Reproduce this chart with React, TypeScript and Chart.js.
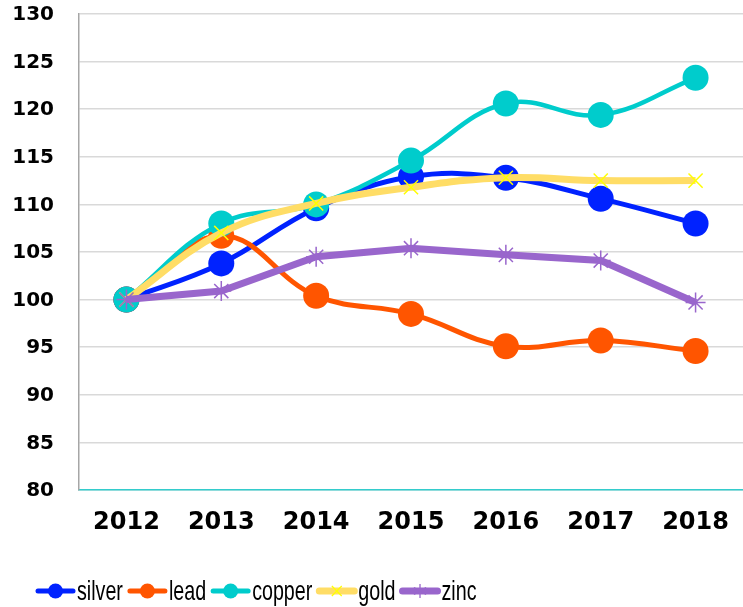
import React, { useEffect, useRef } from "react";
import { Chart, registerables } from "chart.js";

Chart.register(...registerables);

const years = ["2012", "2013", "2014", "2015", "2016", "2017", "2018"];
const silver = [100, 103.8, 109.6, 112.9, 112.8, 110.6, 108.0];
const lead = [100, 106.7, 100.4, 98.5, 95.1, 95.7, 94.6];
const copper = [100, 108.0, 110.0, 114.6, 120.6, 119.4, 123.3];
const gold = [100, 107.0, 110.1, 111.8, 112.8, 112.5, 112.5];
const zinc = [100, 100.9, 104.5, 105.4, 104.7, 104.1, 99.7];
const seriesNames = ["silver", "lead", "copper", "gold", "zinc"];
const yTicks = [80, 85, 90, 95, 100, 105, 110, 115, 120, 125, 130];

const lineColors = ["#0022FF", "#FF5500", "#00CCCC", "#FFDD66", "#9966CC"];
const markerColors = ["#0022FF", "#FF5500", "#00CCCC", "#FFFF00", "#9966CC"];
const markerStyles: any[] = ["circle", "circle", "circle", "crossRot", "star"];

export default function App() {
  const ref = useRef<HTMLCanvasElement | null>(null);
  useEffect(() => {
    document.body.style.margin = "0";
    const canvas = ref.current!;
    const allData = [silver, lead, copper, gold, zinc];
    const widths = [5, 5, 4.5, 7, 7];
    const radii = [13, 13, 13, 10, 10];
    const tensions = [0.4, 0.4, 0.4, 0.4, 0];

    const datasets = allData.map((d, i) => ({
      label: seriesNames[i],
      data: d,
      borderColor: lineColors[i],
      backgroundColor: markerColors[i],
      borderWidth: widths[i],
      tension: tensions[i],
      pointStyle: markerStyles[i],
      pointRadius: radii[i],
      pointBorderColor: markerColors[i],
      pointBackgroundColor: markerColors[i],
      pointBorderWidth: i >= 3 ? 1.5 : 0,
      order: 5 - i,
      fill: false,
      clip: false as any,
    }));

    const yLabelPlugin = {
      id: "yLabels",
      afterDraw(chart: any) {
        const ctx = chart.ctx;
        const yScale = chart.scales.y;
        const xr = chart.chartArea.left - 25;
        ctx.save();
        ctx.font = "bold 20px 'DejaVu Sans', Verdana, sans-serif";
        ctx.fillStyle = "#000";
        ctx.textAlign = "right";
        ctx.textBaseline = "middle";
        for (const v of yTicks) {
          ctx.fillText(String(v), xr, yScale.getPixelForValue(v) + 1);
        }
        ctx.restore();
      },
    };

    const legendPlugin = {
      id: "customLegend",
      afterDraw(chart: any) {
        const ctx = chart.ctx;
        ctx.save();
        const cy = 591;
        let x = 36;
        const sx = 0.82;
        const sy = 1.17;
        ctx.font = "24px 'Liberation Sans', Arial, sans-serif";
        ctx.textBaseline = "middle";
        for (let i = 0; i < seriesNames.length; i++) {
          const lineW = 39;
          ctx.strokeStyle = lineColors[i];
          ctx.lineWidth = i >= 3 ? 7 : 5;
          ctx.lineCap = "round";
          ctx.beginPath();
          ctx.moveTo(x + 2, cy);
          ctx.lineTo(x + lineW - 2, cy);
          ctx.stroke();
          const mx = x + lineW / 2;
          if (i < 3) {
            ctx.fillStyle = markerColors[i];
            ctx.beginPath();
            ctx.arc(mx, cy, 7.5, 0, Math.PI * 2);
            ctx.fill();
          } else {
            ctx.strokeStyle = markerColors[i];
            ctx.lineWidth = 1.3;
            ctx.lineCap = "butt";
            const r = 7;
            const angles = i === 3 ? [45, 135] : [90, 30, 150];
            ctx.beginPath();
            for (const a of angles) {
              const rad = (a * Math.PI) / 180;
              ctx.moveTo(mx + Math.cos(rad) * r, cy + Math.sin(rad) * r);
              ctx.lineTo(mx - Math.cos(rad) * r, cy - Math.sin(rad) * r);
            }
            ctx.stroke();
          }
          x += lineW + 2;
          ctx.fillStyle = "#000";
          ctx.save();
          ctx.translate(x, cy + 1);
          ctx.scale(sx, sy);
          ctx.fillText(seriesNames[i], 0, 0);
          ctx.restore();
          x += ctx.measureText(seriesNames[i]).width * sx + 5;
        }
        ctx.restore();
      },
    };

    const chart = new Chart(canvas, {
      type: "line",
      data: { labels: years, datasets },
      plugins: [yLabelPlugin, legendPlugin],
      options: {
        animation: false,
        responsive: false,
        layout: { autoPadding: false, padding: { left: 12, right: -2, top: 14, bottom: 50 } },
        plugins: {
          legend: { display: false },
          tooltip: { enabled: false },
        },
        scales: {
          x: {
            offset: true,
            grid: { display: false, drawTicks: false },
            border: { color: "#33CCCC", width: 1.5 },
            afterFit: (axis: any) => {
              axis.paddingLeft = 0;
              axis.paddingRight = 0;
              axis.height = 67;
            },
            ticks: {
              padding: 18,
              color: "#000",
              maxRotation: 0,
              font: { family: "'DejaVu Sans', Verdana, sans-serif", weight: "bold", size: 24 },
            },
          },
          y: {
            min: 80,
            max: 130,
            afterBuildTicks: (axis: any) => {
              axis.ticks = yTicks.map((v) => ({ value: v }));
            },
            afterFit: (axis: any) => {
              axis.paddingTop = 0;
              axis.paddingBottom = 0;
              axis.width = 67;
            },
            grid: { color: "#D9D9D9", lineWidth: 1.5, drawTicks: false },
            border: { color: "#A6A6A6", width: 1.5 },
            ticks: { display: false },
          },
        },
      },
    });
    return () => chart.destroy();
  }, []);
  return <canvas ref={ref} width={743} height={607} style={{ display: "block" }} />;
}
